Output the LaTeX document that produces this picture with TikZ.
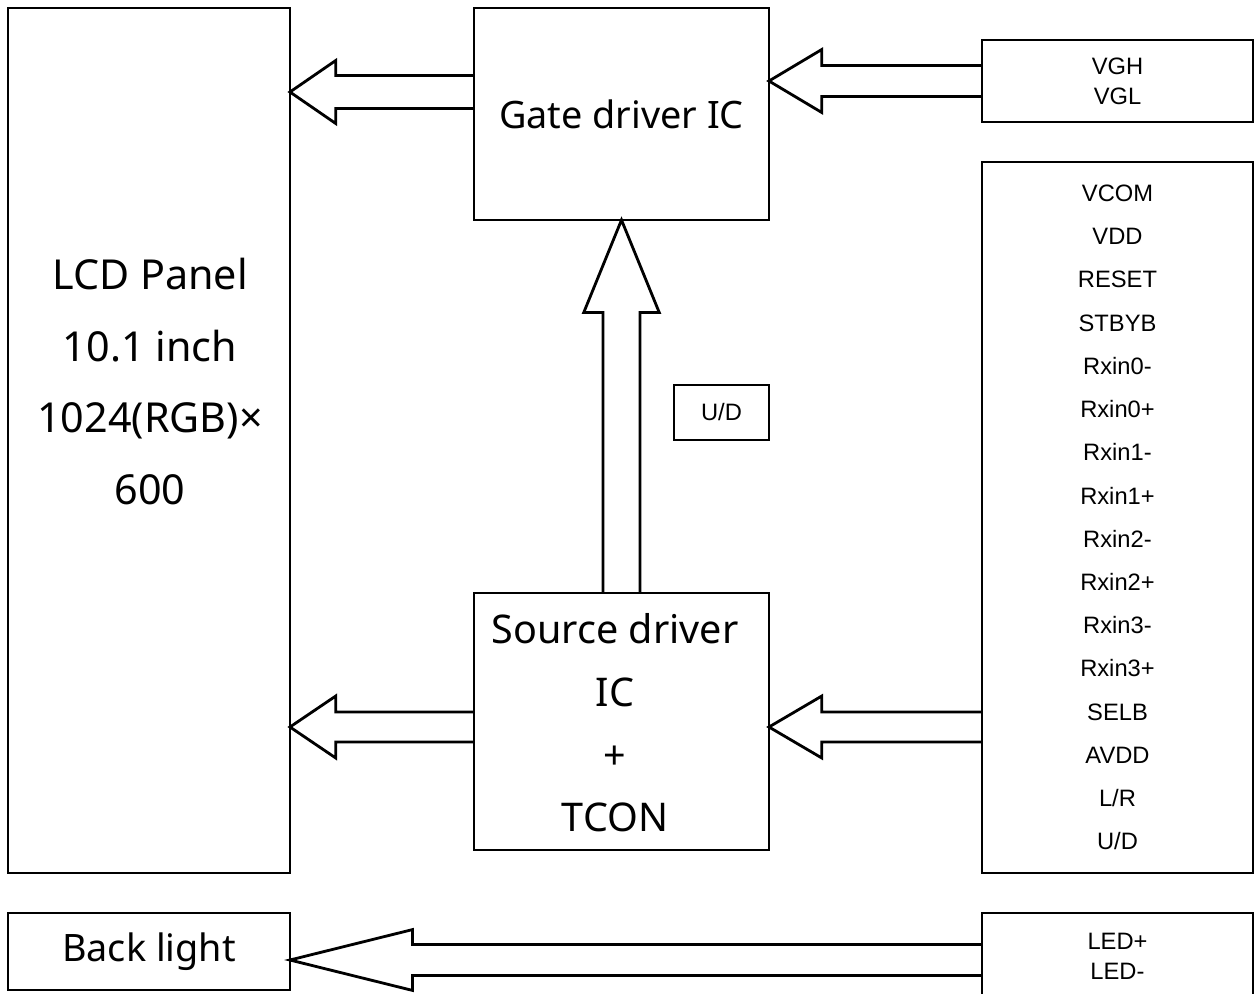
\documentclass[tikz,border=0pt]{standalone}
\usepackage{fontspec}
\setmainfont{Noto Sans}
\newfontfamily\pinfont{Liberation Sans}
\usetikzlibrary{calc}

\tikzset{
  box/.style={draw, line width=1.6pt, inner sep=0pt, outer sep=0pt, align=center},
  big/.style={font=\fontsize{21.5}{35.7}\selectfont, align=center},
  pins/.style={font=\pinfont\fontsize{13.5}{24.6}\selectfont, align=center},
  blk/.style={draw, line width=1.6pt, line join=miter},
}

% block arrow pointing left: tail point, target node, head length, head half width, shaft half width
\newcommand{\blkarrow}[5]{%
  \draw[blk] let \p1=(#1), \p2=(#2) in
    (\x1,\y1+#5) -- (\x2+#3,\y1+#5) -- (\x2+#3,\y1+#4) -- (\x2,\y1)
    -- (\x2+#3,\y1-#4) -- (\x2+#3,\y1-#5) -- (\x1,\y1-#5);}

\begin{document}
\begin{tikzpicture}[x=0.02cm, y=-0.02cm]
\clip (0,0) rectangle (1255,994);

% left column
\node[box, minimum width=5.64cm, minimum height=17.3cm] (lcd) at (149,440.5) {};
\node[big, font=\fontsize{23.5}{40.8}\selectfont] (lcdtxt) at (150,381.5) {LCD Panel\\10.1 inch\\1024(RGB)×\\600};
\node[box, big, minimum width=5.64cm, minimum height=1.54cm] (bl) at (149,951.5) {Back light};

% drivers
\node[box, big, minimum width=5.9cm, minimum height=4.24cm] (gate) at (621.5,114) {Gate driver IC};
\node[box, minimum width=5.9cm, minimum height=5.14cm] (src) at (621.5,721.5) {};
\node[big, font=\fontsize{22.5}{35.7}\selectfont] (srctxt) at (615,723) {Source driver\\IC\\+\\TCON};
\node[box, pins, minimum width=1.9cm, minimum height=1.1cm] (ud) at (721.5,412.5) {U/D};

% inputs
\node[box, pins, font=\pinfont\fontsize{13.5}{17}\selectfont, minimum width=5.42cm, minimum height=1.64cm] (vgh) at (1117.5,81) {VGH\\VGL};
\node[box, pins, minimum width=5.42cm, minimum height=14.22cm] (sig) at (1117.5,517.5)
  {VCOM\\VDD\\RESET\\STBYB\\Rxin0-\\Rxin0+\\Rxin1-\\Rxin1+\\Rxin2-\\Rxin2+\\Rxin3-\\Rxin3+\\SELB\\AVDD\\L/R\\U/D};
\node[box, pins, font=\pinfont\fontsize{13.5}{17}\selectfont, minimum width=5.42cm, minimum height=1.74cm] (led) at (1117.5,956.5) {LED+\\LED-};

% arrows
\coordinate (srcin) at ($(src.west)+(0,5.5)$);
\blkarrow{$(gate.west)+(0,-22)$}{lcd.east}{26pt}{17.9pt}{9.4pt}
\blkarrow{vgh.west}{gate.east}{30pt}{17.9pt}{8.8pt}
\blkarrow{srcin}{lcd.east}{26pt}{17.6pt}{8.5pt}
\blkarrow{sig.west |- srcin}{src.east}{30pt}{17.6pt}{8.5pt}
\blkarrow{$(led.west)+(0,3.5)$}{bl.east}{69.7pt}{17.3pt}{8.8pt}
\draw[blk] let \p1=(src.north), \p2=(gate.south) in
  (\x1-10.5pt,\y1) -- (\x1-10.5pt,\y2-52.7pt) -- (\x1-21.5pt,\y2-52.7pt) -- (\x2,\y2)
  -- (\x1+21.5pt,\y2-52.7pt) -- (\x1+10.5pt,\y2-52.7pt) -- (\x1+10.5pt,\y1);
\end{tikzpicture}
\end{document}
